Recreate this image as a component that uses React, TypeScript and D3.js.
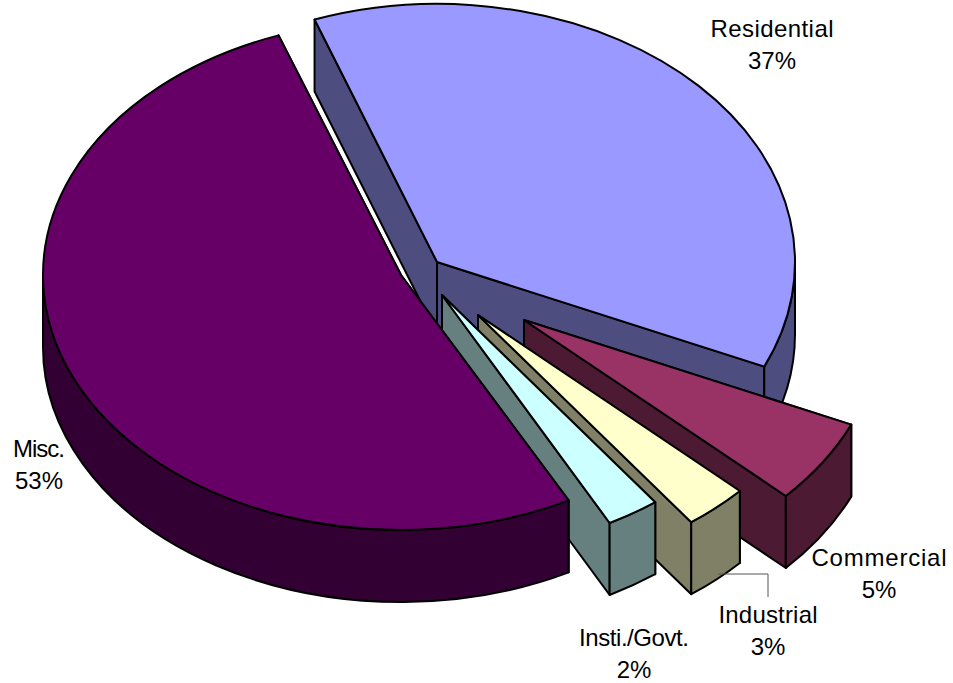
import React from 'react';
import * as d3 from 'd3';

const categories = ['Residential', 'Commercial', 'Industrial', 'Insti./Govt.', 'Misc.'];
const percentLabels = ['37%', '5%', '3%', '2%', '53%'];
const shares = [37.2, 5.3, 2.9, 2.4, 52.2];
const topColors = ['#9999ff', '#993366', '#ffffcc', '#ccffff', '#660066'];
const sideColors = ['#4d4d80', '#4d1a33', '#808066', '#668080', '#330033'];

// where each exploded slice's tip ends up
const tipX = [437, 524, 478, 442, 401];
const tipY = [262, 320, 315, 295, 275];
const radiusY = [258, 258, 258, 258, 255];
const labelX = [772, 879, 768, 634, 39];
const labelY = [37, 566, 623, 646, 457];
const labelWidth = [123, 135, 99, 110, 52];

const width = 953;
const height = 683;
const rx = 358;
const depth = 72;
const startAngle = (-20 * Math.PI) / 180;

const pie = d3
  .pie<number>()
  .sort(null)
  .value(d => d)
  .startAngle(startAngle)
  .endAngle(startAngle + 2 * Math.PI);

const App: React.FC = () => {
  const arcs = pie(shares);

  const slices = arcs.map((a, i) => {
    const cx = tipX[i];
    const cy = tipY[i];
    const ry = radiusY[i];
    const px = (t: number) => cx + rx * Math.sin(t);
    const py = (t: number) => cy - ry * Math.cos(t);
    const large = a.endAngle - a.startAngle > Math.PI ? 1 : 0;

    const topD =
      `M${cx},${cy}L${px(a.startAngle)},${py(a.startAngle)}` +
      `A${rx},${ry},0,${large},1,${px(a.endAngle)},${py(a.endAngle)}Z`;

    // only the front half of the rim can be seen
    const rimFrom = Math.max(a.startAngle, Math.PI / 2);
    const rimTo = Math.min(a.endAngle, (3 * Math.PI) / 2);
    const rim =
      `M${px(rimFrom)},${py(rimFrom)}` +
      `A${rx},${ry},0,0,1,${px(rimTo)},${py(rimTo)}` +
      `L${px(rimTo)},${py(rimTo) + depth}` +
      `A${rx},${ry},0,0,0,${px(rimFrom)},${py(rimFrom) + depth}Z`;

    const wall = (t: number) =>
      `M${cx},${cy}L${px(t)},${py(t)}L${px(t)},${py(t) + depth}L${cx},${cy + depth}Z`;

    return { i, topD, rim, wallA: wall(a.startAngle), wallB: wall(a.endAngle) };
  });

  return (
    <svg
      width={width}
      height={height}
      style={{ position: 'absolute', left: 0, top: 0, background: '#fff' }}
      fontFamily="'Liberation Sans', Arial, sans-serif"
      fontSize={24}
    >
      {slices.map(s => (
        <g key={categories[s.i]} stroke="#000" strokeWidth={2} strokeLinejoin="round">
          <path d={s.wallA} fill={sideColors[s.i]} />
          <path d={s.wallB} fill={sideColors[s.i]} />
          <path d={s.rim} fill={sideColors[s.i]} />
          <path d={s.topD} fill={topColors[s.i]} />
        </g>
      ))}

      {/* leader line for the Industrial label */}
      <path d="M718,574H768V597" fill="none" stroke="#555" strokeWidth={1} />

      {categories.map((c, i) => (
        <g key={c} textAnchor="middle" fill="#000">
          <text x={labelX[i]} y={labelY[i]} textLength={labelWidth[i]} lengthAdjust="spacing">
            {c}
          </text>
          <text x={labelX[i]} y={labelY[i] + 32}>{percentLabels[i]}</text>
        </g>
      ))}
    </svg>
  );
};

export default App;
